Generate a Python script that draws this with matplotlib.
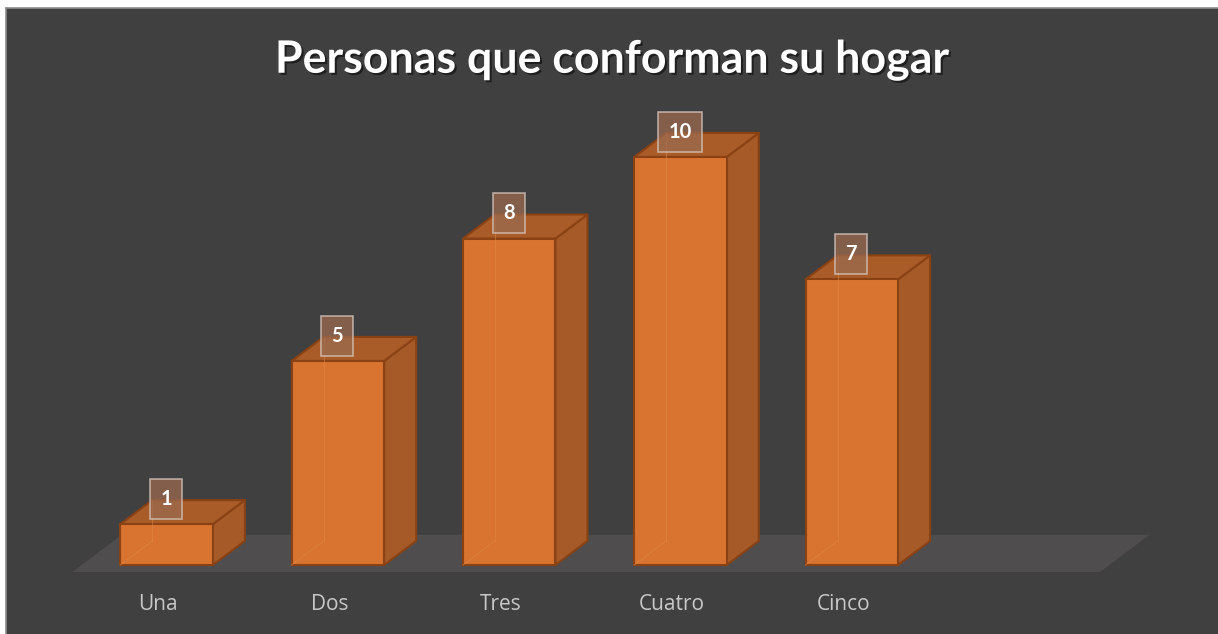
import matplotlib
matplotlib.use("Agg")
import matplotlib.pyplot as plt
from matplotlib.patches import Polygon
import matplotlib.patheffects as pe

categories = ["Una", "Dos", "Tres", "Cuatro", "Cinco"]
values = [1, 5, 8, 10, 7]
n_slots = 6  # the floor leaves room for one empty slot on the right
title = "Personas que conforman su hogar"

# colours
bg = "#404040"
floor_col = "#4f4d4e"
front_col = "#d87430"
side_col = "#a65a27"
top_col = "#a95b28"
edge_col = "#8a4214"

# geometry (slot units on x, value units on y)
bar_left = -0.22
bar_w = 0.54
depth_x = 0.187
depth_y = 0.59
floor_front = -0.17
floor_depth = 37 / 24

slot_px = 171.3
unit_px = 40.8

fig = plt.figure(figsize=(12.18, 6.34), dpi=100, facecolor="white")
ax = fig.add_axes([6 / 1218, 0, 1212 / 1218, 626 / 634])
ax.set_facecolor(bg)
ax.set_xlim((6 - 158) / slot_px, (1218 - 158) / slot_px)
ax.set_ylim((565 - 634) / unit_px, (565 - 8) / unit_px)
ax.set_xticks([])
ax.set_yticks([])
for s in ["bottom", "right"]:
    ax.spines[s].set_visible(False)
for s in ["top", "left"]:
    ax.spines[s].set_color("#8c8c8c")
    ax.spines[s].set_linewidth(1.2)

# floor
fx0, fx1 = -0.5, n_slots - 0.5
fdx, fdy = depth_x * floor_depth, (depth_y * floor_depth)
ax.add_patch(Polygon([(fx0, floor_front), (fx1, floor_front),
                      (fx1 + fdx, floor_front + fdy), (fx0 + fdx, floor_front + fdy)],
                     closed=True, facecolor=floor_col, edgecolor="none", zorder=1))

for i, v in enumerate(values):
    x0 = i + bar_left
    x1 = x0 + bar_w
    # right side
    ax.add_patch(Polygon([(x1, 0), (x1 + depth_x, depth_y), (x1 + depth_x, v + depth_y), (x1, v)],
                         closed=True, facecolor=side_col, edgecolor=edge_col, lw=1.5, zorder=3,
                         joinstyle="round"))
    # top
    ax.add_patch(Polygon([(x0, v), (x1, v), (x1 + depth_x, v + depth_y), (x0 + depth_x, v + depth_y)],
                         closed=True, facecolor=top_col, edgecolor=edge_col, lw=1.5, zorder=3,
                         joinstyle="round"))
    # front
    ax.add_patch(Polygon([(x0, 0), (x1, 0), (x1, v), (x0, v)],
                         closed=True, facecolor=front_col, edgecolor=edge_col, lw=1.5, zorder=4,
                         joinstyle="round"))
    # faint hidden back edges seen through the bar
    ax.plot([x0 + depth_x, x0 + depth_x], [depth_y, v + depth_y], color="#e08a45", lw=0.8, alpha=0.5, zorder=5)
    ax.plot([x0, x0 + depth_x], [0, depth_y], color="#e08a45", lw=0.8, alpha=0.5, zorder=5)

    # value label
    ax.text(i + 0.047, v + 0.62, str(v), ha="center", va="center", color="white",
            fontsize=14.5, fontweight="bold", family="Lato", zorder=7,
            bbox=dict(boxstyle="square,pad=0.5", facecolor="#9a6a50", alpha=0.75,
                      edgecolor="#d8c8c0", linewidth=1.2))

    # category label
    ax.text(i, -0.97, categories[i], ha="center", va="center", color="#c8c8c8",
            fontsize=15, family="Open Sans", zorder=6)

fig.text(612 / 1218, 1 - 60 / 634, title, ha="center", va="center", color="white",
         fontsize=32.2, fontweight="bold", family="Lato",
         path_effects=[pe.withSimplePatchShadow(offset=(1.5, -1.5), shadow_rgbFace="black", alpha=0.5)])

fig.savefig("out.png", dpi=100, facecolor="white")
